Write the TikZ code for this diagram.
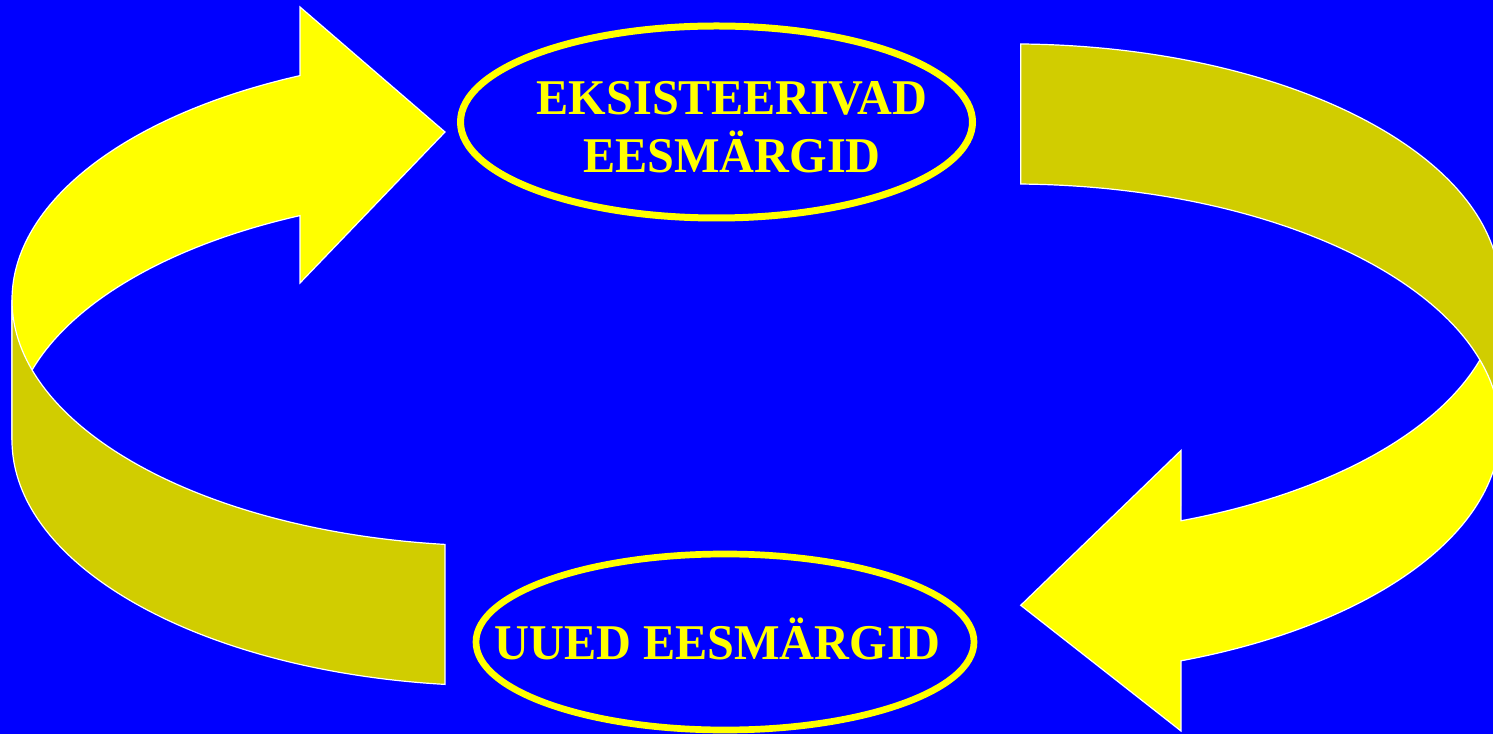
\documentclass[tikz,border=0pt]{standalone}
\usepackage{fontspec}
\newfontfamily\labelfont[FakeStretch=0.965]{Liberation Serif}
\usetikzlibrary{shapes.geometric}
\definecolor{bgblue}{RGB}{0,0,255}
\definecolor{ribbonyellow}{RGB}{255,255,0}
\definecolor{ribbondark}{RGB}{209,205,0}
\begin{document}
\begin{tikzpicture}[x=1pt,y=1pt,
  ribbon/.style={draw=white, line width=1.2pt, line join=miter},
  ell/.style={x radius=488, y radius=246},
  goal/.style={draw=ribbonyellow, shape=ellipse, inner sep=0pt},
  goaltext/.style={text=ribbonyellow, font=\labelfont\bfseries\fontsize{50}{58}\selectfont, anchor=base, inner sep=0pt}]
\useasboundingbox (0,0) rectangle (1493,734);
\fill[bgblue] (0,0) rectangle (1493,734);
\clip (0,0) rectangle (1493,734);

% left arrow: back (yellow) part with head
\path[ribbon, fill=ribbonyellow] (12,434) arc[start angle=180, end angle=114.19, ell]
  -- (300,727) -- (445,602) -- (300,451) -- (300,518.4)
  arc[start angle=114.19, end angle=180, ell] -- cycle;
% left arrow: front (dark) part
\path[ribbon, fill=ribbondark] (12,434) arc[start angle=180, end angle=263.53, ell]
  -- (445,49.6) arc[start angle=263.53, end angle=180, ell] -- cycle;

% right arrow: front (yellow) part with head
\path[ribbon, fill=ribbonyellow] (1500,444) arc[start angle=0, end angle=-69.74, ell]
  -- (1181,283.6) -- (1020.7,128.7) -- (1181,3) -- (1181,73.2)
  arc[start angle=-69.74, end angle=0, ell] -- cycle;
% right arrow: back (dark) part
\path[ribbon, fill=ribbondark] (1020.7,690) arc[start angle=88.98, end angle=0, ell]
  -- (1500,304) arc[start angle=0, end angle=88.98, ell] -- cycle;

% goal ellipses
\node[goal, line width=7pt, minimum width=512pt, minimum height=192pt] (existing) at (716.5,612) {};
\node[goal, line width=6.7pt, minimum width=498pt, minimum height=176pt] (new) at (725,92) {};

% texts
\node[goaltext] (existing1) at (732,619.7) {EKSISTEERIVAD};
\node[goaltext] (existing2) at (732,561.7) {EESMÄRGID};
\node[goaltext] (new1) at (717.5,74.7) {UUED EESMÄRGID};
\end{tikzpicture}
\end{document}
